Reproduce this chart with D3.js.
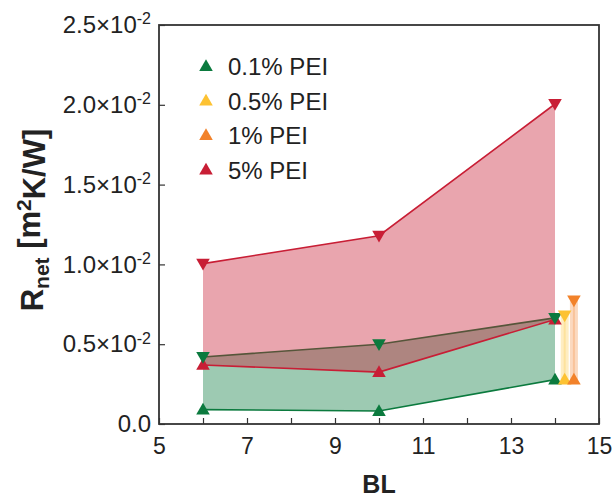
<!DOCTYPE html>
<html>
<head>
<meta charset="utf-8">
<script src="https://cdn.jsdelivr.net/npm/d3@7"></script>
<style>
body{margin:0;background:#fff;}
svg text{font-family:"Liberation Sans",Arial,sans-serif;fill:#222;}
</style>
</head>
<body>
<div id="chart"></div>
<script>
var svgW=614,svgH=498;
var margin={left:159,right:15,top:25,bottom:74};

// data: BL positions, lower (up triangle) and upper (down triangle) Rnet
var seriesNames=["0.1% PEI","0.5% PEI","1% PEI","5% PEI"];
var seriesColors=["#0b7a3e","#fdc232","#f2822a","#c81e35"];
var blMain=[6,10,14];
var low01=[0.00090,0.00081,0.00278];
var high01=[0.00420,0.00500,0.00665];
var low5=[0.00370,0.00325,0.00655];
var high5=[0.01005,0.01180,0.02005];
var bl05=[14.22],low05=[0.00278],high05=[0.00680];
var bl1=[14.43],low1=[0.00278],high1=[0.00775];
var xTicks=[5,6,7,8,9,10,11,12,13,14,15];
var yTicks=[0,0.005,0.01,0.015,0.02,0.025];

var svg=d3.select("#chart").append("svg")
    .attr("width",svgW).attr("height",svgH);

var x=d3.scaleLinear().domain([5,15]).range([margin.left,svgW-margin.right]);
var y=d3.scaleLinear().domain([0,0.025]).range([svgH-margin.bottom,margin.top]);

function rows(xs,lo,hi){return xs.map(function(d,i){return {x:d,lo:lo[i],hi:hi[i]};});}
var area=d3.area().x(function(d){return x(d.x);}).y0(function(d){return y(d.lo);}).y1(function(d){return y(d.hi);});
var lineLo=d3.line().x(function(d){return x(d.x);}).y(function(d){return y(d.lo);});
var lineHi=d3.line().x(function(d){return x(d.x);}).y(function(d){return y(d.hi);});

var d01=rows(blMain,low01,high01),d5=rows(blMain,low5,high5);

// green band
svg.append("path").datum(d01).attr("d",area).attr("fill",seriesColors[0]).attr("fill-opacity",0.4);
svg.append("path").datum(d01).attr("d",lineLo).attr("fill","none").attr("stroke",seriesColors[0]).attr("stroke-width",1.6);
svg.append("path").datum(d01).attr("d",lineHi).attr("fill","none").attr("stroke",seriesColors[0]).attr("stroke-width",1.6);
// red band on top
svg.append("path").datum(d5).attr("d",area).attr("fill",seriesColors[3]).attr("fill-opacity",0.4);
svg.append("path").datum(d5).attr("d",lineLo).attr("fill","none").attr("stroke",seriesColors[3]).attr("stroke-width",1.6);
svg.append("path").datum(d5).attr("d",lineHi).attr("fill","none").attr("stroke",seriesColors[3]).attr("stroke-width",1.6);

// narrow bars for 0.5% and 1%
[[rows(bl05,low05,high05),1],[rows(bl1,low1,high1),2]].forEach(function(s){
    svg.selectAll(null).data(s[0]).enter().append("rect")
        .attr("x",function(d){return x(d.x)-4;})
        .attr("y",function(d){return y(d.hi);})
        .attr("width",8)
        .attr("height",function(d){return y(d.lo)-y(d.hi);})
        .attr("fill",seriesColors[s[1]]).attr("fill-opacity",0.3);
    svg.selectAll(null).data(s[0]).enter().append("line")
        .attr("x1",function(d){return x(d.x);}).attr("x2",function(d){return x(d.x);})
        .attr("y1",function(d){return y(d.hi);}).attr("y2",function(d){return y(d.lo);})
        .attr("stroke",seriesColors[s[1]]).attr("stroke-opacity",0.25).attr("stroke-width",2);
});

var triUp=d3.symbol().type(d3.symbolTriangle).size(80);
function drawMarkers(data,color,key,rot){
    svg.selectAll(null).data(data).enter().append("path")
        .attr("d",triUp)
        .attr("transform",function(d){return "translate("+x(d.x)+","+(y(d[key])+(rot?-1:1))+")"+(rot?" rotate(180)":"");})
        .attr("fill",color);
}
drawMarkers(d5,seriesColors[3],"lo",false);
drawMarkers(d5,seriesColors[3],"hi",true);
drawMarkers(d01,seriesColors[0],"lo",false);
drawMarkers(d01,seriesColors[0],"hi",true);
drawMarkers(rows(bl05,low05,high05),seriesColors[1],"lo",false);
drawMarkers(rows(bl05,low05,high05),seriesColors[1],"hi",true);
drawMarkers(rows(bl1,low1,high1),seriesColors[2],"lo",false);
drawMarkers(rows(bl1,low1,high1),seriesColors[2],"hi",true);

// axes
var xAxis=svg.append("g").attr("transform","translate(0,"+(svgH-margin.bottom)+")")
    .call(d3.axisBottom(x).tickValues(xTicks).tickSizeInner(-6).tickSizeOuter(0).tickPadding(14)
        .tickFormat(function(d){return (d-5)%2===0?d:"";}));
xAxis.selectAll("text").style("font-size","23px");

var yAxis=svg.append("g").attr("transform","translate("+margin.left+",0)")
    .call(d3.axisLeft(y).tickValues(yTicks).tickSizeInner(-6).tickSizeOuter(0).tickPadding(8).tickFormat(""));
yAxis.selectAll(".tick text").each(function(d){
    var t=d3.select(this).style("font-size","24px");
    if(d===0){t.text("0.0");return;}
    t.append("tspan").text((d*100).toFixed(1)+"×10");
    t.append("tspan").attr("dy","-0.55em").style("font-size","16px").text("-2");
});
svg.selectAll(".domain").remove();
svg.selectAll(".tick line").attr("stroke","#333").attr("stroke-width",1.2);

svg.append("rect")
    .attr("x",margin.left).attr("y",margin.top)
    .attr("width",svgW-margin.right-margin.left).attr("height",svgH-margin.bottom-margin.top)
    .attr("fill","none").attr("stroke","#333").attr("stroke-width",1.8);

// axis titles
svg.append("text").attr("x",(margin.left+svgW-margin.right)/2).attr("y",493)
    .attr("text-anchor","middle").style("font-size","25px").style("font-weight","bold").text("BL");
var yl=svg.append("text").attr("transform","translate(43,220) rotate(-90)")
    .attr("text-anchor","middle").style("font-size","31px").style("font-weight","bold");
yl.append("tspan").text("R");
yl.append("tspan").attr("dy","0.3em").style("font-size","21px").text("net");
yl.append("tspan").attr("dy","-0.3em").text(" [m");
yl.append("tspan").attr("dy","-0.45em").style("font-size","21px").text("2");
yl.append("tspan").attr("dy","0.45em").text("K/W]");

// legend
var leg=svg.append("g");
seriesNames.forEach(function(n,i){
    var g=leg.append("g").attr("transform","translate(206,"+(67+i*34.5)+")");
    g.append("path").attr("d",triUp).attr("fill",seriesColors[i]);
    g.append("text").attr("x",22).attr("y",8).style("font-size","24px").text(n);
});
</script>
</body>
</html>
